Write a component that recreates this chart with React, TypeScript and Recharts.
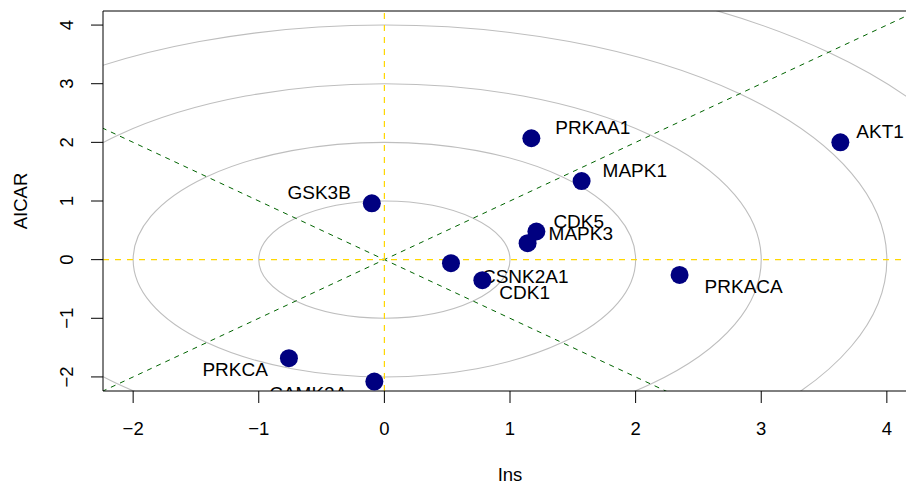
import { ScatterChart, Scatter, XAxis, YAxis, ReferenceLine, ReferenceArea } from 'recharts';

const genes = ['AKT1', 'PRKAA1', 'MAPK1', 'GSK3B', 'CDK5', 'MAPK3', 'CSNK2A1', 'CDK1', 'PRKACA', 'PRKCA', 'CAMK2A'];
const insValues = [3.63, 1.17, 1.57, -0.1, 1.21, 1.14, 0.53, 0.78, 2.35, -0.76, -0.08];
const aicarValues = [2.0, 2.07, 1.34, 0.96, 0.48, 0.28, -0.06, -0.35, -0.26, -1.68, -2.08];

const xTicks = [-2, -1, 0, 1, 2, 3, 4];
const yTicks = [-2, -1, 0, 1, 2, 3, 4];
const ringRadii = [1, 2, 3, 4, 5];
const diagonalSlopes = [1, -1];
const axisLimits = [-2, 4];

// label placement next to each point: [dx, dy to cap centre, anchor]
const labelPlacement: Record<string, [number, number, 'start' | 'end']> = {
  AKT1: [16, -11, 'start'],
  PRKAA1: [24, -11, 'start'],
  MAPK1: [21, -11, 'start'],
  GSK3B: [-21, -11, 'end'],
  CDK5: [17, -10, 'start'],
  MAPK3: [21, -10.5, 'start'],
  CSNK2A1: [31, 13, 'start'],
  CDK1: [17, 12, 'start'],
  PRKACA: [25, 11.5, 'start'],
  PRKCA: [-21, 11.5, 'end'],
  CAMK2A: [-27, 12, 'end'],
};

const FONT = '"Liberation Sans", Arial, Helvetica, sans-serif';
const pad = (axisLimits[1] - axisLimits[0]) * 0.04;
const domain = [axisLimits[0] - pad, axisLimits[1] + pad];
const points = genes.map((name, i) => ({ name, x: insValues[i], y: aicarValues[i] }));
const fmt = (v: number) => (v < 0 ? '\u2212' + Math.abs(v) : String(v));

const PointShape = (props: any) => {
  const { cx, cy, payload } = props;
  const [dx, dy, anchor] = labelPlacement[payload.name];
  return (
    <g>
      <circle cx={cx} cy={cy} r={9} fill="#000080" />
      <text x={cx + dx} y={cy + dy + 6.8} textAnchor={anchor} fontSize={19} fontFamily={FONT} fill="#000">
        {payload.name}
      </text>
    </g>
  );
};

const YTick = (props: any) => {
  const { x, y, payload } = props;
  return (
    <text x={x} y={y} transform={`rotate(-90, ${x}, ${y})`} textAnchor="middle" fontSize={18.5} fontFamily={FONT} fill="#000">
      {fmt(payload.value)}
    </text>
  );
};

export default function App() {
  return (
    <div style={{ position: 'fixed', left: 0, top: 0, width: 906, height: 484, overflow: 'hidden', background: '#fff' }}>
      <ScatterChart width={930} height={484} margin={{ top: 11, right: 13, bottom: 0, left: 0 }}>
        <XAxis
          type="number"
          dataKey="x"
          domain={domain}
          allowDataOverflow
          ticks={xTicks}
          tickFormatter={fmt}
          height={93}
          tickSize={12}
          tickMargin={19}
          axisLine={{ stroke: '#000' }}
          tickLine={{ stroke: '#000' }}
          tick={{ fill: '#000', fontSize: 18.5, fontFamily: FONT }}
          label={{
            content: (p: any) => (
              <text x={p.viewBox.x + p.viewBox.width / 2} y={p.viewBox.y + 90} textAnchor="middle" fontSize={18.5} fontFamily={FONT} fill="#000">
                Ins
              </text>
            ),
          }}
        />
        <YAxis
          type="number"
          dataKey="y"
          domain={domain}
          allowDataOverflow
          ticks={yTicks}
          width={103}
          tickSize={12}
          tickMargin={18}
          axisLine={{ stroke: '#000' }}
          tickLine={{ stroke: '#000' }}
          tick={<YTick />}
          label={{
            content: (p: any) => {
              const cy = p.viewBox.y + p.viewBox.height / 2;
              return (
                <text x={27} y={cy} transform={`rotate(-90, 27, ${cy})`} textAnchor="middle" fontSize={18.5} fontFamily={FONT} fill="#000">
                  AICAR
                </text>
              );
            },
          }}
        />
        {/* whole plot region: defines the clip used by the rings */}
        <ReferenceArea
          ifOverflow="visible"
          shape={(p: any) => (
            <defs>
              <clipPath id="plot-clip">
                <rect x={p.x} y={p.y} width={p.width} height={p.height} />
              </clipPath>
            </defs>
          )}
        />
        <ReferenceLine y={domain[1]} stroke="#000" ifOverflow="visible" />
        {ringRadii.map(r => (
          <ReferenceArea
            key={r}
            x1={-r}
            x2={r}
            y1={-r}
            y2={r}
            ifOverflow="visible"
            shape={(p: any) => (
              <ellipse
                cx={p.x + p.width / 2}
                cy={p.y + p.height / 2}
                rx={Math.abs(p.width) / 2}
                ry={Math.abs(p.height) / 2}
                fill="none"
                stroke="#BEBEBE"
                strokeWidth={1.1}
                clipPath="url(#plot-clip)"
              />
            )}
          />
        ))}
        {diagonalSlopes.map(s => (
          <ReferenceLine
            key={s}
            segment={[{ x: -6, y: -6 * s }, { x: 6, y: 6 * s }]}
            stroke="#006400"
            strokeDasharray="5 5"
            ifOverflow="hidden"
          />
        ))}
        <ReferenceLine y={0} stroke="#FFD700" strokeWidth={1.4} strokeDasharray="6 6" />
        <ReferenceLine x={0} stroke="#FFD700" strokeWidth={1.2} strokeDasharray="6 6" />
        <Scatter data={points} shape={PointShape} isAnimationActive={false} />
      </ScatterChart>
    </div>
  );
}
